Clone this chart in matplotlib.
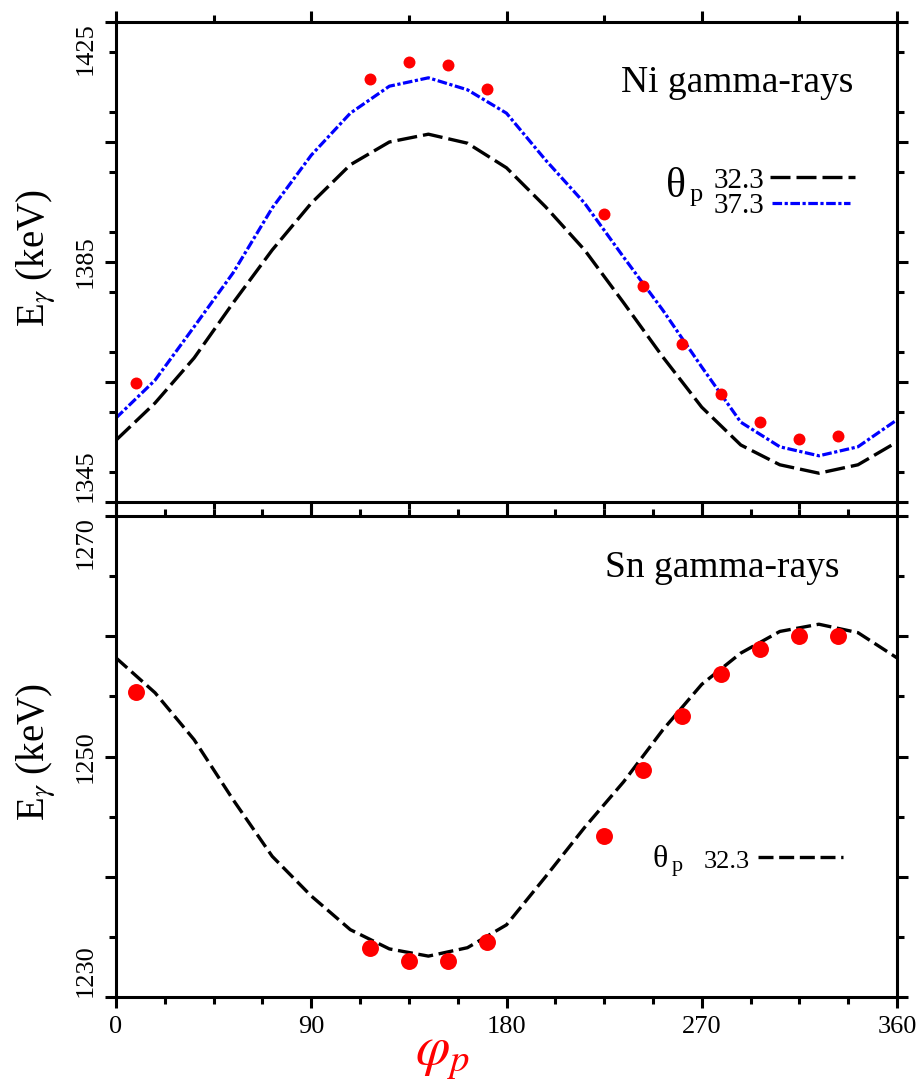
import matplotlib
matplotlib.use("Agg")
import matplotlib.pyplot as plt
from matplotlib.lines import Line2D
from matplotlib.ticker import MultipleLocator

plt.rcParams['font.family'] = ['Liberation Serif', 'DejaVu Serif']
plt.rcParams['mathtext.fontset'] = 'stix'

# Azimuthal angle grid of the calculated curves (deg)
phi_calc = [0, 18, 36, 54, 72, 90, 108, 126, 144, 162, 180,
            198, 216, 234, 252, 270, 288, 306, 324, 342, 360]

# Ni gamma-ray energies, calculated for two polar angles (keV)
ni_calc_323 = [1355.3, 1361.5, 1369.0, 1378.2, 1387.0, 1394.8, 1401.2, 1405.0, 1406.3, 1404.8, 1400.7,
               1394.2, 1387.0, 1378.2, 1369.2, 1360.8, 1354.5, 1351.2, 1349.8, 1351.2, 1355.0]
ni_calc_373 = [1359.0, 1365.3, 1374.2, 1383.2, 1394.0, 1402.8, 1409.8, 1414.3, 1415.7, 1413.7, 1409.8,
               1402.0, 1394.8, 1385.8, 1377.0, 1367.5, 1358.3, 1354.2, 1352.7, 1354.2, 1358.7]

# Sn gamma-ray energies, calculated (keV)
sn_calc_323 = [1258.2, 1255.3, 1251.4, 1246.4, 1241.7, 1238.4, 1235.6, 1234.0, 1233.4, 1234.1, 1236.0,
               1240.0, 1244.1, 1247.9, 1252.2, 1256.0, 1258.6, 1260.4, 1261.0, 1260.3, 1258.2]

# Measured values
phi_exp = [9, 117, 135, 153, 171, 225, 243, 261, 279, 297, 315, 333]
ni_exp = [1364.8, 1415.5, 1418.3, 1417.8, 1413.8, 1393.0, 1381.0, 1371.3, 1363.0, 1358.3, 1355.5, 1356.0]
sn_exp = [1255.4, 1234.1, 1233.0, 1233.0, 1234.6, 1243.4, 1248.9, 1253.4, 1256.9, 1258.9, 1260.0, 1260.0]

theta_labels = ['32.3', '37.3']
x_ticks = [0, 90, 180, 270, 360]
ni_yticks = [1345, 1365, 1385, 1405, 1425]
ni_ylabels = ['1345', '', '1385', '', '1425']
sn_yticks = [1230, 1240, 1250, 1260, 1270]
sn_ylabels = ['1230', '', '1250', '', '1270']

W, H = 921, 1089
fig = plt.figure(figsize=(W / 100, H / 100), dpi=100)


def fx(x):
    return x / W


def fy(y):
    return 1 - y / H


ax1 = fig.add_axes([fx(116), fy(502), fx(897) - fx(116), fy(22) - fy(502)])
ax2 = fig.add_axes([fx(116), fy(997), fx(897) - fx(116), fy(516) - fy(997)])

LW_AX = 2.2
BLACK_DASH = (0, (6, 1.8))
BLUE_DASHDOT = (0, (3, 0.8, 1, 0.8))
SN_DASH = (0, (4.5, 1.7))

for ax in (ax1, ax2):
    for s in ax.spines.values():
        s.set_linewidth(LW_AX)
    ax.set_xlim(0, 360)
    ax.xaxis.set_major_locator(MultipleLocator(90))
    ax.tick_params(which='both', direction='out', top=True, right=True,
                   bottom=True, left=True, width=LW_AX)
    ax.tick_params(which='major', length=8)
    ax.tick_params(which='minor', length=5)
    ax.tick_params(axis='both', labelsize=19, pad=6)

ax1.xaxis.set_minor_locator(MultipleLocator(45))
ax2.xaxis.set_minor_locator(MultipleLocator(22.5))

# Top panel: Ni
ax1.set_ylim(1345, 1425)
ax1.set_yticks(ni_yticks)
ax1.set_yticklabels(ni_ylabels, rotation=90)
ax1.yaxis.set_minor_locator(MultipleLocator(10))
ax1.set_xticks(x_ticks)
ax1.set_xticklabels([])
ax1.plot(phi_calc, ni_calc_323, color='black', lw=2.4, linestyle=BLACK_DASH)
ax1.plot(phi_calc, ni_calc_373, color='#0000ff', lw=2.3, linestyle=BLUE_DASHDOT)
ax1.plot(phi_exp, ni_exp, 'o', color='#ff0000', markersize=8.6, markeredgewidth=0)

# Bottom panel: Sn
ax2.set_ylim(1230, 1270)
ax2.set_yticks(sn_yticks)
ax2.set_yticklabels(sn_ylabels, rotation=90)
ax2.yaxis.set_minor_locator(MultipleLocator(5))
ax2.set_xticks(x_ticks)
ax2.set_xticklabels([str(v) for v in x_ticks])
ax2.plot(phi_calc, sn_calc_323, color='black', lw=2.4, linestyle=SN_DASH)
ax2.plot(phi_exp, sn_exp, 'o', color='#ff0000', markersize=12.2, markeredgewidth=0)

# end labels sit inside the axis range
for ax in (ax1, ax2):
    labs = ax.get_yticklabels()
    labs[0].set_va('bottom')
    labs[-1].set_va('top')
    for lab in labs[1:-1]:
        lab.set_va('center')

# Axis titles
for yc in (258, 752):
    fig.text(fx(36), fy(yc), r'E$_\gamma$ (keV)', rotation=90, ha='center', va='center',
             fontsize=28)
fig.text(fx(442), fy(1056), r'$\varphi_p$', color='#ff0000', ha='center', va='center',
         fontsize=40)

# Panel captions
fig.text(fx(621), fy(92), 'Ni gamma-rays', fontsize=27, ha='left', va='baseline')
fig.text(fx(605), fy(577), 'Sn gamma-rays', fontsize=27, ha='left', va='baseline')

# Key, top panel
fig.text(fx(666), fy(197), '\u03b8', fontsize=30, ha='left', va='baseline')
fig.text(fx(690), fy(201), 'p', fontsize=19, ha='left', va='baseline')
fig.text(fx(714), fy(188), theta_labels[0], fontsize=21, ha='left', va='baseline')
fig.text(fx(714), fy(213), theta_labels[1], fontsize=21, ha='left', va='baseline')
fig.add_artist(Line2D([fx(770), fx(855)], [fy(177), fy(177)], color='black', lw=2.4,
                      linestyle=BLACK_DASH))
fig.add_artist(Line2D([fx(772), fx(850)], [fy(203), fy(203)], color='#0000ff', lw=2.3,
                      linestyle=BLUE_DASHDOT))

# Key, bottom panel
fig.text(fx(652), fy(867), '\u03b8', fontsize=23, ha='left', va='baseline')
fig.text(fx(672), fy(871), 'p', fontsize=16, ha='left', va='baseline')
fig.text(fx(704), fy(868), theta_labels[0], fontsize=19, ha='left', va='baseline')
fig.add_artist(Line2D([fx(758), fx(843)], [fy(857), fy(857)], color='black', lw=2.4,
                      linestyle=SN_DASH))

fig.savefig('out.png', dpi=100)
